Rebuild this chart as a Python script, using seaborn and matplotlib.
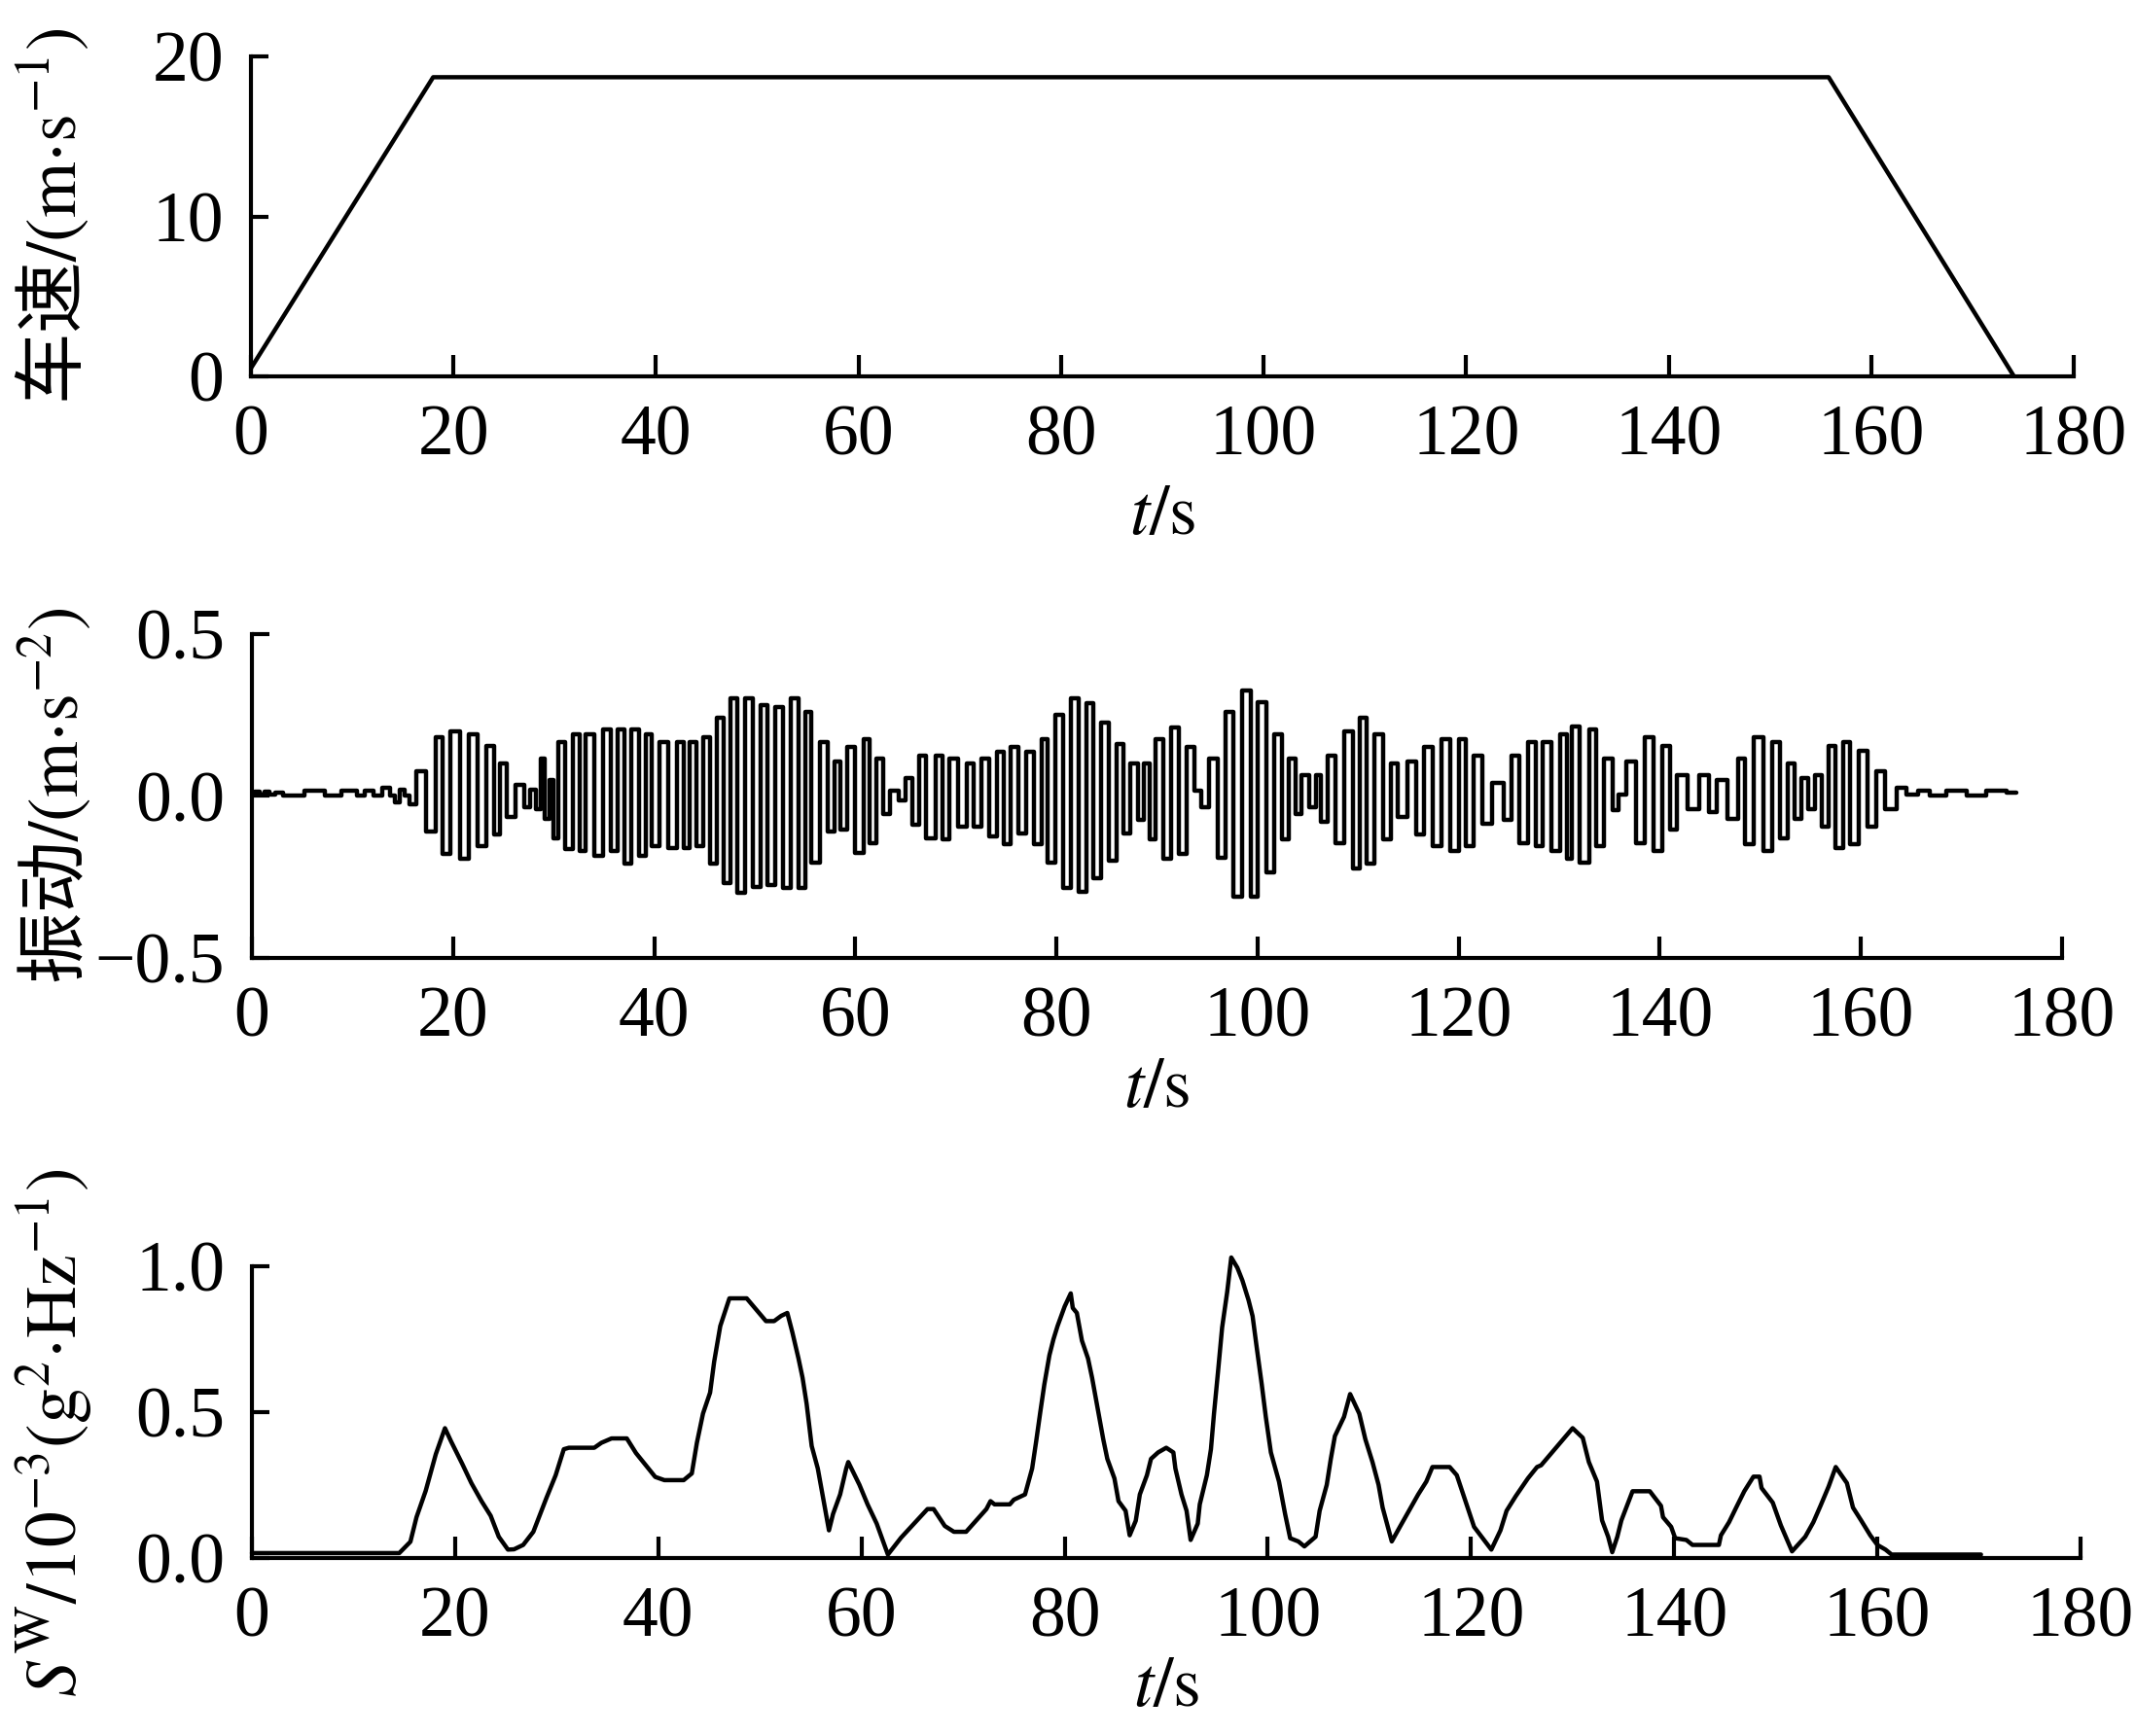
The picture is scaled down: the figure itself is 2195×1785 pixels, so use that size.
import numpy as np
import pandas as pd
import matplotlib
matplotlib.use("Agg")
import matplotlib.pyplot as plt
import seaborn as sns

# vehicle speed (m/s) over time (s)
speed_t = [0.0, 18.0, 155.8, 174.1]
speed_v = [0.5, 18.7, 18.7, 0.0]

# vibration turning points
vib_t = [0.0, 0.6, 1.0, 1.5, 2.0, 2.6, 3.5, 5.0, 5.4, 7.0, 7.6, 8.5, 9.2, 10.0, 10.8, 11.6,
         12.5, 13.4, 14.0, 14.4, 15.0, 15.4, 15.9,
         16.8, 17.9, 18.75, 19.2, 20.3, 21.1, 22.0, 22.85, 23.7, 24.4, 25.0, 25.7, 26.7, 27.4,
         28.0, 28.5, 28.9, 29.4, 29.8, 30.2, 30.8, 31.5, 32.3, 32.8, 33.6, 34.5, 35.4, 36.0,
         36.7, 37.3, 38.2, 38.8, 39.5, 40.1, 41.0, 41.8, 42.7, 43.1, 44.0, 44.4, 45.3, 45.9,
         46.6, 47.2, 47.9, 48.7, 49.4, 50.2, 50.9, 51.6, 52.4, 53.3, 53.9, 54.8, 55.2, 56.1,
         56.9, 57.6, 58.2, 58.9, 59.5, 60.4, 61.2, 61.7, 62.5, 63.0, 63.9, 64.8, 65.2, 66.1,
         66.7, 67.4, 68.5, 68.9, 69.8, 70.6, 71.5, 72.1, 73.0, 73.6, 74.5, 75.1, 75.8, 76.7,
         77.3, 78.2, 78.8, 79.5, 80.3, 81.0, 81.8, 82.7, 83.3, 84.0, 84.9, 85.5, 86.4, 87.0,
         87.7, 88.5, 88.95, 89.6, 90.2, 91.1, 91.8, 92.6, 93.3, 94.1, 94.8, 95.6, 96.5, 97.2,
         98.0, 98.9, 99.7, 100.4, 101.3, 102.1, 102.8, 103.4, 104.1, 104.7, 105.6, 106.0,
         106.6, 107.3, 108.2, 109.0, 109.9, 110.5, 111.2, 112.0, 112.9, 113.6, 114.3, 115.5,
         116.1, 117.0, 117.9, 118.7, 119.6, 120.4, 121.1, 121.9, 122.8, 123.9, 125.0, 125.6,
         126.5, 127.3, 128.0, 128.8, 129.7, 130.5, 131.0, 131.6, 132.5, 133.4, 134.0, 134.9,
         135.7, 136.1, 137.2, 138.1, 138.9, 139.8, 140.7, 141.3, 142.2, 143.3, 144.5, 145.2,
         146.2, 147.3, 148.2, 148.8, 149.9, 150.8, 151.6, 152.3, 153.1, 153.8, 154.4, 155.1,
         155.7, 156.6, 157.0, 157.9, 158.5, 159.4, 160.2, 161.1, 161.9, 163.0, 164.1, 165.0,
         166.3, 167.5, 169.5, 171.6, 173.4, 175.5]
vib_a = [0.005, 0.012, 0.003, 0.012, 0.003, 0.01, 0.0, 0.0, 0.015, 0.015, 0.0, 0.0, 0.015, 0.015,
         0.0, 0.015, 0.0, 0.025, 0.0, -0.02, 0.02, 0.0, -0.025,
         0.075, -0.11, 0.18, -0.18, 0.2, -0.195, 0.19, -0.155, 0.155, -0.12, 0.1, -0.065, 0.035,
         -0.035, 0.02, -0.04, 0.115, -0.07, 0.05, -0.13, 0.165, -0.165, 0.19, -0.17, 0.19,
         -0.185, 0.205, -0.17, 0.205, -0.21, 0.205, -0.185, 0.19, -0.155, 0.165, -0.16, 0.165,
         -0.16, 0.165, -0.155, 0.18, -0.21, 0.24, -0.27, 0.3, -0.3, 0.3, -0.28, 0.28, -0.275,
         0.275, -0.285, 0.3, -0.285, 0.26, -0.205, 0.165, -0.11, 0.105, -0.105, 0.15, -0.175,
         0.175, -0.145, 0.115, -0.055, 0.015, -0.015, 0.055, -0.09, 0.125, -0.13, 0.125,
         -0.135, 0.115, -0.095, 0.1, -0.095, 0.115, -0.125, 0.135, -0.15, 0.15, -0.115, 0.135,
         -0.15, 0.175, -0.205, 0.25, -0.285, 0.3, -0.295, 0.285, -0.255, 0.225, -0.2, 0.16,
         -0.115, 0.1, -0.075, 0.1, -0.135, 0.175, -0.195, 0.21, -0.18, 0.15, 0.015, -0.035,
         0.115, -0.19, 0.26, -0.31, 0.325, -0.31, 0.29, -0.235, 0.19, -0.135, 0.115, -0.055,
         0.065, -0.035, 0.065, -0.08, 0.125, -0.145, 0.2, -0.225, 0.24, -0.21, 0.19, -0.135,
         0.1, -0.065, 0.105, -0.12, 0.15, -0.155, 0.175, -0.17, 0.175, -0.155, 0.125, -0.085,
         0.04, -0.075, 0.125, -0.145, 0.165, -0.155, 0.165, -0.17, 0.19, -0.195, 0.215, -0.205,
         0.205, -0.155, 0.115, -0.045, 0.005, 0.105, -0.145, 0.18, -0.17, 0.155, -0.105, 0.065,
         -0.04, 0.065, -0.05, 0.05, -0.07, 0.115, -0.15, 0.18, -0.17, 0.165, -0.13, 0.1, -0.07,
         0.055, -0.04, 0.065, -0.095, 0.155, -0.16, 0.165, -0.15, 0.14, -0.095, 0.075, -0.04,
         0.025, 0.005, 0.015, 0.0, 0.015, 0.0, 0.015, 0.01]

# weighted PSD S^W (1e-3 g^2/Hz)
sw_t = [0, 14.5, 15.6, 16.2, 17.1, 18.1, 19.0, 19.6, 20.7, 21.6, 22.6, 23.5, 24.3, 25.2, 25.8,
        26.7, 27.7, 29.0, 29.9, 30.7, 31.2, 33.7, 34.4, 35.4, 36.9, 37.8, 39.7, 40.6, 42.5,
        43.3, 43.8, 44.4, 45.1, 45.5, 46.1, 47.0, 48.7, 50.6, 51.4, 52.1, 52.7, 53.2, 53.8,
        54.2, 54.6, 55.1, 55.7, 56.4, 56.8, 57.2, 57.9, 58.5, 58.7, 59.8, 60.6, 61.5, 62.6,
        63.9, 66.5, 67.1, 68.2, 69.1, 70.3, 72.3, 72.7, 73.1, 74.6, 75.0, 76.1, 76.8, 77.2,
        77.6, 78.0, 78.5, 78.9, 79.3, 80.0, 80.6, 80.8, 81.2, 81.7, 82.3, 82.7, 83.4, 83.8,
        84.2, 84.9, 85.3, 86.0, 86.4, 87.0, 87.4, 88.1, 88.5, 89.2, 90.0, 90.7, 90.9, 91.5,
        92.0, 92.4, 93.1, 93.3, 94.0, 94.4, 94.7, 95.1, 95.5, 96.0, 96.4, 97.0, 97.5, 98.1,
        98.5, 98.9, 99.4, 99.8, 100.3, 101.1, 101.7, 102.2, 103.0, 103.6, 104.7, 105.1, 105.8,
        106.2, 106.6, 107.5, 108.1, 109.0, 109.6, 110.3, 110.9, 111.3, 112.2, 113.0, 114.8,
        115.6, 116.2, 117.9, 118.6, 119.5, 120.3, 122.0, 122.9, 123.5, 124.4, 125.6, 126.5,
        126.9, 130.0, 131.0, 131.6, 132.4, 132.9, 133.5, 133.9, 134.4, 134.8, 135.9, 137.6,
        138.7, 138.9, 139.7, 140.1, 141.2, 141.8, 144.4, 144.6, 145.4, 146.1, 146.9, 147.8,
        148.4, 148.6, 149.7, 150.5, 151.6, 152.9, 153.7, 154.4, 155.2, 155.9, 157.0, 157.6,
        158.4, 159.3, 160.0, 160.8, 161.4, 170.2]
sw_v = [0.017, 0.017, 0.056, 0.14, 0.23, 0.356, 0.445, 0.40, 0.323, 0.257, 0.195, 0.145, 0.073,
        0.029, 0.03, 0.045, 0.09, 0.207, 0.284, 0.373, 0.378, 0.378, 0.395, 0.41, 0.41, 0.36,
        0.278, 0.267, 0.267, 0.29, 0.395, 0.495, 0.567, 0.673, 0.795, 0.89, 0.89, 0.812, 0.812,
        0.83, 0.84, 0.773, 0.684, 0.618, 0.529, 0.384, 0.307, 0.173, 0.095, 0.151, 0.218, 0.307,
        0.329, 0.251, 0.184, 0.118, 0.012, 0.07, 0.168, 0.168, 0.11, 0.09, 0.09, 0.168, 0.195,
        0.184, 0.184, 0.2, 0.218, 0.307, 0.401, 0.5, 0.595, 0.695, 0.75, 0.795, 0.862, 0.907,
        0.857, 0.84, 0.745, 0.684, 0.618, 0.484, 0.407, 0.34, 0.273, 0.195, 0.162, 0.078, 0.128,
        0.218, 0.284, 0.34, 0.362, 0.378, 0.362, 0.307, 0.218, 0.162, 0.062, 0.118, 0.184,
        0.284, 0.373, 0.495, 0.64, 0.79, 0.912, 1.03, 0.995, 0.951, 0.884, 0.829, 0.723, 0.595,
        0.484, 0.362, 0.262, 0.151, 0.068, 0.057, 0.04, 0.073, 0.162, 0.251, 0.34, 0.418, 0.484,
        0.562, 0.495, 0.407, 0.329, 0.251, 0.173, 0.057, 0.107, 0.218, 0.262, 0.312, 0.312,
        0.284, 0.19, 0.107, 0.029, 0.095, 0.162, 0.212, 0.273, 0.312, 0.318, 0.445, 0.412,
        0.329, 0.262, 0.129, 0.073, 0.02, 0.073, 0.129, 0.229, 0.229, 0.179, 0.14, 0.107, 0.068,
        0.062, 0.045, 0.045, 0.078, 0.123, 0.173, 0.229, 0.279, 0.279, 0.24, 0.19, 0.112, 0.023,
        0.073, 0.123, 0.179, 0.245, 0.312, 0.257, 0.173, 0.129, 0.078, 0.045, 0.029, 0.012,
        0.012]

x_ticks = [0, 20, 40, 60, 80, 100, 120, 140, 160, 180]

sns.set_theme(style="ticks")
plt.rcParams["font.family"] = ["Liberation Serif"]
plt.rcParams["mathtext.fontset"] = "stix"
plt.rcParams["axes.linewidth"] = 3
for key in ["text.color", "axes.labelcolor", "xtick.color", "ytick.color", "axes.edgecolor"]:
    plt.rcParams[key] = "black"

FS = 53
LW = 3.2
fig = plt.figure(figsize=(21.95, 17.85), dpi=100)
ax1 = fig.add_axes([0.1175, 0.7832, 0.8538, 0.1843])
ax2 = fig.add_axes([0.1180, 0.4482, 0.8478, 0.1866])
ax3 = fig.add_axes([0.1180, 0.1025, 0.8565, 0.1681])

df1 = pd.DataFrame({"t": speed_t, "v": speed_v})
df2 = pd.DataFrame({"t": vib_t, "a": vib_a})
df3 = pd.DataFrame({"t": sw_t, "s": sw_v})

sns.lineplot(data=df1, x="t", y="v", ax=ax1, color="black", linewidth=LW,
             estimator=None, sort=False)
sns.lineplot(data=df2, x="t", y="a", ax=ax2, color="black", linewidth=LW,
             estimator=None, sort=False, drawstyle="steps-mid")
sns.lineplot(data=df3, x="t", y="s", ax=ax3, color="black", linewidth=LW,
             estimator=None, sort=False, clip_on=False)

ax1.set_ylim(0, 20)
ax1.set_yticks([0, 10, 20])
ax2.set_ylim(-0.5, 0.5)
ax2.set_yticks([-0.5, 0.0, 0.5])
ax3.set_ylim(0, 1.0)
ax3.set_yticks([0.0, 0.5, 1.0])

ylabels = ["车速$\\mathrm{/(m{\\cdot}s^{-1})}$",
           "振动$\\mathrm{/(m{\\cdot}s^{-2})}$",
           "$S^{\\mathrm{W}}\\mathrm{/10^{-3}(g^{2}{\\cdot}Hz^{-1})}$"]
ylab_y = [0.5, 0.5, 0.43]
xlab_y = [-0.44, -0.405, -0.447]

for ax, yl, ly, lx in zip([ax1, ax2, ax3], ylabels, ylab_y, xlab_y):
    ax.set_xlim(0, 180)
    ax.set_xticks(x_ticks)
    sns.despine(ax=ax)
    ax.tick_params(axis="x", direction="in", length=16, width=3, pad=21, labelsize=FS,
                   colors="black")
    ax.tick_params(axis="y", direction="in", length=13, width=3, pad=20, labelsize=FS,
                   colors="black")
    ax.set_xlabel("$t\\mathrm{/s}$", fontsize=FS, va="center", color="black")
    ax.xaxis.set_label_coords(0.5, lx)
    ax.set_ylabel(yl, fontsize=FS, va="center", color="black",
                  family=["Noto Sans CJK SC", "DejaVu Sans"])
    ax.yaxis.set_label_coords(-0.108, ly)
    for s in ax.spines.values():
        s.set_linewidth(3)
        s.set_color("black")
    ax.patch.set_alpha(0)

fig.savefig("out.png", dpi=100, facecolor="white")
